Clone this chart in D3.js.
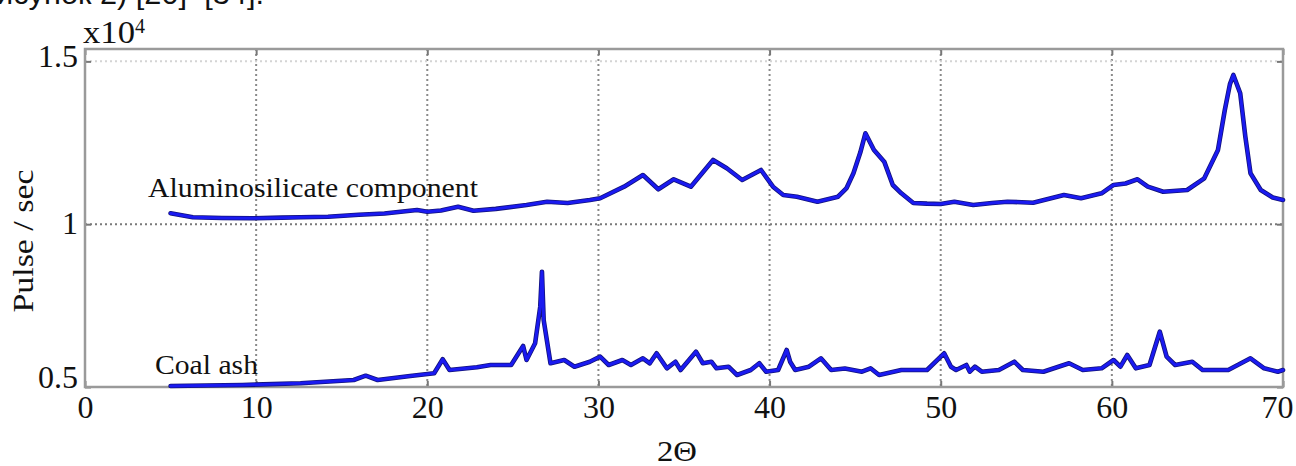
<!DOCTYPE html>
<html>
<head>
<meta charset="utf-8">
<script src="https://cdn.jsdelivr.net/npm/d3@7"></script>
<style>
  html, body { margin: 0; padding: 0; background: #fff; }
  svg { display: block; }
  text { font-family: "Liberation Serif", "Times New Roman", serif; fill: #111; }
</style>
</head>
<body>
<svg id="chart" width="1296" height="466"></svg>
<script>
// ---------- data (2Θ in degrees, intensity in pulse/sec) ----------
const aluminoX = [5.0, 6.3, 8.0, 9.8, 11.5, 12.6, 14.2, 16.0, 17.5, 19.4, 20.0, 20.8, 21.8, 22.7, 24.0, 25.8, 27.0, 28.2, 29.5, 30.1, 31.5, 32.6, 33.5, 34.4, 35.4, 36.7, 37.5, 38.4, 39.5, 40.2, 40.8, 41.6, 42.8, 44.0, 44.5, 44.9, 45.3, 45.6, 46.1, 46.7, 47.2, 47.7, 48.4, 49.2, 50.0, 50.8, 51.9, 53.0, 53.9, 55.4, 57.2, 58.2, 59.4, 60.1, 60.8, 61.5, 62.1, 63.0, 64.4, 65.4, 66.2, 66.6, 66.9, 67.1, 67.5, 67.8, 68.1, 68.7, 69.4, 70.0];
const aluminoY = [10335, 10212, 10190, 10181, 10200, 10215, 10230, 10290, 10330, 10436, 10384, 10420, 10537, 10415, 10470, 10590, 10691, 10651, 10743, 10795, 11152, 11511, 11072, 11379, 11152, 11972, 11717, 11357, 11665, 11152, 10897, 10845, 10691, 10845, 11110, 11563, 12200, 12792, 12279, 11920, 11204, 10949, 10651, 10630, 10620, 10691, 10590, 10650, 10691, 10660, 10897, 10795, 10949, 11204, 11250, 11379, 11152, 10998, 11050, 11410, 12279, 13507, 14300, 14582, 14020, 12687, 11563, 11050, 10820, 10743];

const coalX = [5.0, 9.2, 12.6, 15.7, 16.4, 17.1, 19.0, 20.4, 20.9, 21.3, 22.9, 23.7, 24.9, 25.6, 25.8, 26.3, 26.6, 26.7, 26.8, 27.2, 28.0, 28.6, 29.5, 30.1, 30.6, 31.4, 31.9, 32.6, 33.0, 33.4, 34.0, 34.5, 34.8, 35.7, 36.1, 36.6, 36.9, 37.6, 38.1, 38.9, 39.4, 39.8, 40.5, 41.0, 41.2, 41.5, 42.3, 43.0, 43.6, 44.4, 45.4, 45.9, 46.4, 47.7, 49.2, 50.2, 50.6, 50.9, 51.5, 51.7, 52.0, 52.4, 53.4, 54.3, 54.8, 56.0, 57.5, 58.3, 59.4, 60.1, 60.5, 60.9, 61.4, 62.2, 62.8, 63.2, 63.7, 64.7, 65.3, 66.8, 68.1, 68.9, 69.7, 70.0];
const coalY = [5031, 5061, 5114, 5215, 5347, 5215, 5338, 5421, 5851, 5522, 5605, 5676, 5676, 6259, 5829, 6342, 7466, 8541, 7058, 5728, 5829, 5623, 5777, 5931, 5676, 5829, 5676, 5881, 5728, 6035, 5574, 5777, 5522, 6084, 5728, 5777, 5574, 5623, 5369, 5522, 5728, 5470, 5522, 6136, 5777, 5522, 5623, 5881, 5522, 5570, 5470, 5574, 5369, 5522, 5522, 6035, 5623, 5522, 5676, 5470, 5623, 5470, 5522, 5777, 5522, 5470, 5728, 5522, 5574, 5829, 5623, 5983, 5574, 5676, 6698, 5931, 5676, 5777, 5522, 5522, 5881, 5574, 5470, 5522];

const xTicks = [0, 10, 20, 30, 40, 50, 60, 70];
const yTicks = [5000, 10000, 15000];
const yTickLabels = ["0.5", "1", "1.5"];
const seriesLabels = ["Aluminosilicate component", "Coal ash"];

// ---------- layout ----------
const svg = d3.select("#chart");
const pL = 85, pR = 1283, pT = 49, pB = 387;
const x = d3.scaleLinear().domain([0, 70]).range([pL, pR]);
const y = d3.scaleLinear().domain([5000, 15380]).range([pB, pT]);

// cropped caption line from the page above
svg.append("text")
  .attr("x", -4).attr("y", 4)
  .attr("textLength", 268).attr("lengthAdjust", "spacingAndGlyphs")
  .style("font-family", "'Liberation Sans', Arial, sans-serif")
  .style("font-size", "30px")
  .text("исунок 2) [20]–[34].");

// grid
const grid = svg.append("g");
grid.selectAll("line.vg").data(xTicks.slice(1, -1)).join("line")
  .attr("x1", d => x(d)).attr("x2", d => x(d))
  .attr("y1", pT).attr("y2", pB)
  .attr("stroke", "#8a8a8a").attr("stroke-width", 2).attr("stroke-dasharray", "2,3");
grid.append("line")
  .attr("x1", pL).attr("x2", pR).attr("y1", y(10000)).attr("y2", y(10000))
  .attr("stroke", "#7a7a7a").attr("stroke-width", 2).attr("stroke-dasharray", "2,3");
grid.append("line")
  .attr("x1", pL).attr("x2", pR).attr("y1", y(15000)).attr("y2", y(15000))
  .attr("stroke", "#d4d4d4").attr("stroke-width", 2).attr("stroke-dasharray", "2,3");

// axes via d3 (ticks inward)
const fmtY = d => yTickLabels[yTicks.indexOf(d)];
const gB = svg.append("g").attr("transform", `translate(0,${pB})`)
  .call(d3.axisBottom(x).tickValues(xTicks).tickSize(-6).tickPadding(8).tickFormat(d3.format("d")));
const gT = svg.append("g").attr("transform", `translate(0,${pT})`)
  .call(d3.axisTop(x).tickValues(xTicks).tickSize(-6).tickFormat(""));
const gL = svg.append("g").attr("transform", `translate(${pL},0)`)
  .call(d3.axisLeft(y).tickValues(yTicks).tickSize(-6).tickPadding(7).tickFormat(fmtY));
const gR = svg.append("g").attr("transform", `translate(${pR},0)`)
  .call(d3.axisRight(y).tickValues(yTicks).tickSize(-6).tickFormat(""));
[gB, gT, gL, gR].forEach(g => {
  g.select(".domain").remove();
  g.selectAll(".tick line").attr("stroke", "#777").attr("stroke-width", 2);
  g.selectAll("text").style("font-family", "'Liberation Serif', serif").style("font-size", "32px").attr("fill", "#111");
});
gB.selectAll("text").attr("dy", "0.71em");
gB.selectAll(".tick").filter(d => d === 70).select("text").attr("dx", -6);
gL.selectAll("text").attr("dy", "0.3em");
gL.selectAll(".tick").filter(d => d === 5000).select("text").attr("y", -9);
gL.selectAll(".tick").filter(d => d === 15000).select("text").attr("y", -4);

// frame
svg.append("rect")
  .attr("x", pL).attr("y", pT).attr("width", pR - pL).attr("height", pB - pT)
  .attr("fill", "none").attr("stroke", "#9a9a9a").attr("stroke-width", 2.5);

// lines
const line = d3.line().x(d => x(d[0])).y(d => y(d[1])).curve(d3.curveLinear);
const alumino = aluminoX.map((v, i) => [v, aluminoY[i]]);
const coal = coalX.map((v, i) => [v, coalY[i]]);
[alumino, coal].forEach(data => {
  svg.append("path").datum(data).attr("d", line)
    .attr("fill", "none").attr("stroke", "#12127a").attr("stroke-width", 4.6)
    .attr("stroke-linejoin", "round").attr("stroke-linecap", "round");
  svg.append("path").datum(data).attr("d", line)
    .attr("fill", "none").attr("stroke", "#1a1af0").attr("stroke-width", 3.0)
    .attr("stroke-linejoin", "round").attr("stroke-linecap", "round");
});

// series labels
svg.append("text").attr("x", 148).attr("y", 197).style("font-size", "27px")
  .attr("textLength", 330).attr("lengthAdjust", "spacingAndGlyphs").text(seriesLabels[0]);
svg.append("text").attr("x", 155).attr("y", 374).style("font-size", "27px")
  .attr("textLength", 103).attr("lengthAdjust", "spacingAndGlyphs").text(seriesLabels[1]);

// exponent
const ex = svg.append("text").attr("x", 83).attr("y", 43).style("font-size", "31px");
ex.append("tspan").attr("textLength", 52).attr("lengthAdjust", "spacingAndGlyphs").text("x10");
ex.append("tspan").attr("dy", -10).style("font-size", "20px").text("4");

// axis titles
svg.append("text")
  .attr("transform", `translate(33,241) rotate(-90)`)
  .attr("text-anchor", "middle").style("font-size", "29px")
  .attr("textLength", 143).attr("lengthAdjust", "spacingAndGlyphs").text("Pulse / sec");
svg.append("text").attr("x", 677).attr("y", 461).attr("text-anchor", "middle")
  .style("font-size", "30px").attr("textLength", 40).attr("lengthAdjust", "spacingAndGlyphs").text("2Θ");
</script>
</body>
</html>
